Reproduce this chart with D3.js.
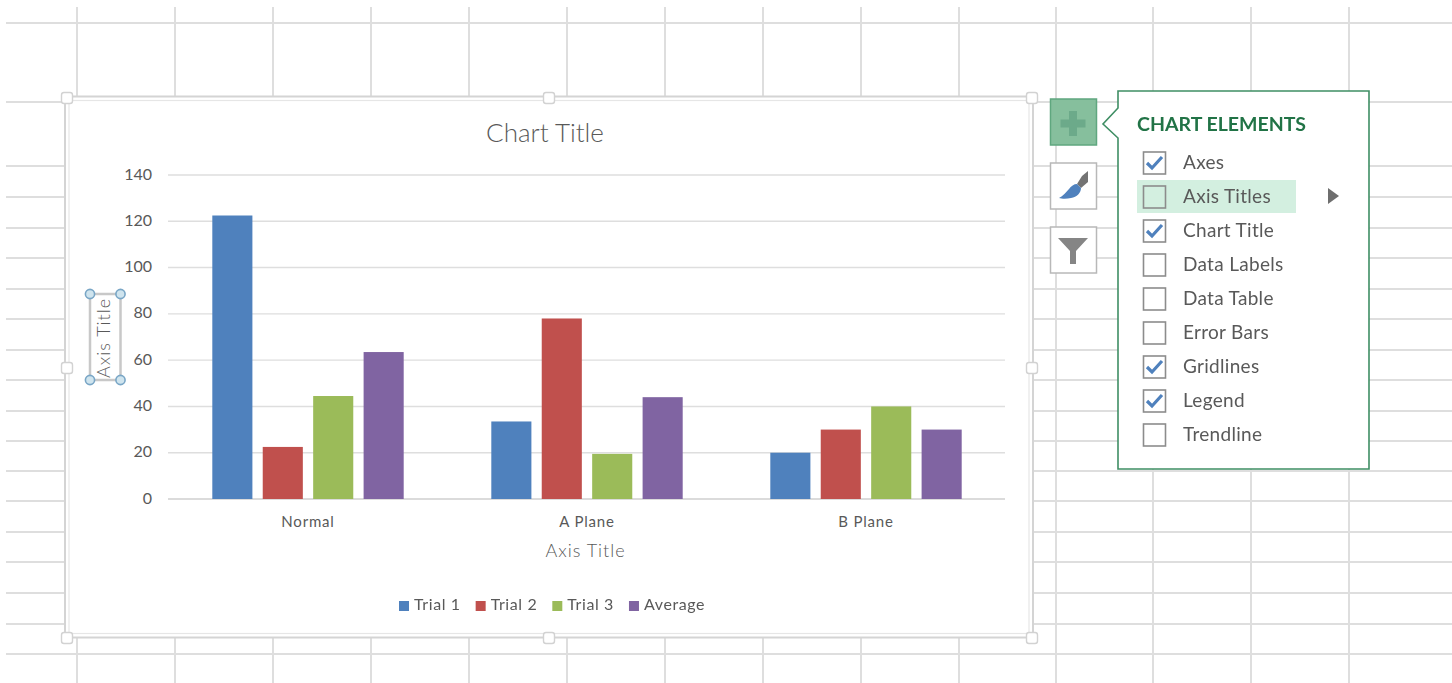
<!DOCTYPE html>
<html><head><meta charset="utf-8">
<script src="https://cdn.jsdelivr.net/npm/d3@7"></script>
<style>
html,body{margin:0;padding:0;background:#fff;overflow:hidden}
svg{display:block;filter:blur(0.45px)}
text{font-family:Lato,"Open Sans",sans-serif;fill:#595959}
</style></head><body>
<svg id="c" width="1452" height="683"></svg>
<script>
const categories = ["Normal","A Plane","B Plane"];
const seriesNames = ["Trial 1","Trial 2","Trial 3","Average"];
const seriesColors = ["#4f81bd","#c0504d","#9bbb59","#8064a2"];
const trial1 = [122.5,33.5,20];
const trial2 = [22.5,78,30];
const trial3 = [44.5,19.5,40];
const average = [63.5,44,30];
const yTicks = [0,20,40,60,80,100,120,140];
const menuItems = ["Axes","Axis Titles","Chart Title","Data Labels","Data Table","Error Bars","Gridlines","Legend","Trendline"];
const menuChecked = [true,false,true,false,false,false,true,true,false];
const sheetColumns = [77,175,273,371,469,567,665,763,861,959,1056,1153,1251,1349];
const sheetRows = [23,102,166,197,228,258,289,319,350,380,411,441,471,501,532,562,593,624,654];

const seriesValues = [trial1,trial2,trial3,average];
const svg = d3.select("#c");

/* worksheet */
const sheet = svg.append("g").attr("stroke","#dedede").attr("stroke-width",2);
sheet.selectAll("line.c").data(sheetColumns).join("line").attr("x1",d=>d).attr("x2",d=>d).attr("y1",7).attr("y2",683);
sheet.selectAll("line.r").data(sheetRows).join("line").attr("x1",6).attr("x2",1452).attr("y1",d=>d).attr("y2",d=>d);

/* chart frame */
svg.append("rect").attr("x",65).attr("y",96.5).attr("width",968).attr("height",541).attr("fill","#fff").attr("stroke","#d4d4d4").attr("stroke-width",2);
svg.append("rect").attr("x",69).attr("y",100.5).attr("width",960).attr("height",533).attr("fill","#fff").attr("stroke","#e6e6e6").attr("stroke-width",1.2);
const handles=[[67,98],[549,98],[1032,98],[67,368],[1032,368],[67,638],[549,638],[1032,638]];
svg.selectAll("rect.h").data(handles).join("rect").attr("class","h")
  .attr("x",d=>d[0]-5.5).attr("y",d=>d[1]-5.5).attr("width",11).attr("height",11).attr("rx",2.5)
  .attr("fill","#fff").attr("stroke","#d2d2d2").attr("stroke-width",1.4);

/* scales */
const x0 = d3.scaleBand().domain(categories).range([168.5,1005.5]);
const groupW = x0.bandwidth()*0.686;
const x1 = d3.scaleBand().domain(seriesNames).range([-groupW/2,groupW/2]).paddingInner(0.205);
const y = d3.scaleLinear().domain([0,140]).range([499,175]);

/* gridlines */
svg.append("g").selectAll("line").data(yTicks).join("line")
  .attr("x1",168).attr("x2",1005).attr("y1",d=>y(d)).attr("y2",d=>y(d))
  .attr("stroke",d=>d===0?"#cfcfcf":"#dedede").attr("stroke-width",1.4);

/* y axis */
const yAxis = d3.axisLeft(y).tickValues(yTicks).tickSize(0).tickPadding(0);
const yg = svg.append("g").attr("transform","translate(152,-1.5)").call(yAxis);
yg.select(".domain").remove();
yg.selectAll("text").style("font-size","16px").style("font-family","Lato").attr("fill","#595959").attr("dy","0.35em");

/* x axis */
const xAxis = d3.axisBottom(x0).tickSize(0).tickPadding(0);
const xg = svg.append("g").attr("transform","translate(0,522)").call(xAxis);
xg.select(".domain").remove();
xg.selectAll("text").style("font-size","15px").style("font-family","Lato").style("letter-spacing","0.8px").attr("fill","#595959").attr("dy","0.35em");

/* bars */
seriesNames.forEach((name,s)=>{
  svg.append("g").attr("fill",seriesColors[s]).selectAll("rect").data(seriesValues[s]).join("rect")
    .attr("x",(d,i)=>x0(categories[i])+x0.bandwidth()/2+x1(name))
    .attr("width",x1.bandwidth())
    .attr("y",d=>y(d)).attr("height",d=>y(0)-y(d));
});

/* titles */
svg.append("text").attr("x",545).attr("y",136).attr("text-anchor","middle").attr("dominant-baseline","middle")
  .style("font-size","26px").style("font-weight",300).text("Chart Title");
svg.append("text").attr("x",585.5).attr("y",553).attr("text-anchor","middle").attr("dominant-baseline","middle")
  .style("font-size","18px").style("font-weight",300).style("letter-spacing","1px").text("Axis Title");
svg.append("rect").attr("x",90).attr("y",294).attr("width",30.5).attr("height",86).attr("fill","none").attr("stroke","#c8c8c8").attr("stroke-width",2.5);
svg.append("text").attr("transform","translate(106,338) rotate(-90)").attr("text-anchor","middle").attr("dominant-baseline","middle")
  .style("font-size","18px").style("font-weight",300).style("letter-spacing","1px").text("Axis Title");
svg.selectAll("circle.s").data([[90,294],[120.5,294],[90,380],[120.5,380]]).join("circle").attr("class","s")
  .attr("cx",d=>d[0]).attr("cy",d=>d[1]).attr("r",4.6).attr("fill","#cfe4ee").attr("stroke","#79a6c6").attr("stroke-width",1.6);

/* legend */
let lx = 399;
seriesNames.forEach((name,s)=>{
  svg.append("rect").attr("x",lx).attr("y",601).attr("width",10).attr("height",10).attr("fill",seriesColors[s]);
  const t = svg.append("text").attr("x",lx+15).attr("y",606).attr("dominant-baseline","middle").style("font-size","16px").style("letter-spacing","0.6px").text(name);
  lx += 15 + t.node().getComputedTextLength() + 15;
});

/* side buttons */
function btn(y0,fill,stroke){ svg.append("rect").attr("x",1050.5).attr("y",y0).attr("width",46).attr("height",46).attr("fill",fill).attr("stroke",stroke).attr("stroke-width",1.5); }
btn(99,"#86bf9d","#5fa77f");
btn(163,"#fff","#b8b8b8");
btn(227,"#fff","#b8b8b8");
svg.append("path").attr("d","M1069,111h8v8.5h8.5v8h-8.5v8.5h-8v-8.5h-8.5v-8h8.5z").attr("fill","#6caa8a");
svg.append("path").attr("d","M1088,171L1088,182L1081,188L1077,184L1082,176Z").attr("fill","#737373");
svg.append("path").attr("d","M1077,184L1081,188C1081,193 1077,197 1071,198C1067,199 1062,199 1059,198C1063,196 1066,192 1069,189C1071,186 1074,184 1077,184Z").attr("fill","#4f81bd");
svg.append("path").attr("d","M1058,238h30l-12,13v13h-6v-13z").attr("fill","#858585");

/* popup panel */
svg.append("path").attr("d","M1118,91H1369V469H1118V138L1103,124L1118,108Z").attr("fill","#fff").attr("stroke","#3f8e64").attr("stroke-width",1.6);
svg.append("text").attr("x",1137).attr("y",125.5).attr("dominant-baseline","middle").style("font-size","19.5px").style("font-weight",700).style("fill","#217346").text("CHART ELEMENTS");
svg.append("rect").attr("x",1137).attr("y",180).attr("width",159).attr("height",33).attr("fill","#d3efe0");
svg.append("path").attr("d","M1328,188L1339,196L1328,204Z").attr("fill","#6e6e6e");

const my = d3.scalePoint().domain(menuItems).range([163,435]);
menuItems.forEach((m,i)=>{
  const cy = my(m);
  svg.append("rect").attr("x",1143.5).attr("y",cy-11).attr("width",22).attr("height",22).attr("fill","none").attr("stroke","#8c8c8c").attr("stroke-width",1.6);
  if(menuChecked[i]) svg.append("path").attr("d",`M1147,${cy}L1152,${cy+5}L1162,${cy-6}`).attr("fill","none").attr("stroke","#4f81bd").attr("stroke-width",3.2);
  svg.append("text").attr("x",1183).attr("y",cy+1.5).attr("dominant-baseline","middle").style("font-size","19px").style("letter-spacing","0.3px").text(m);
});
</script></body></html>
